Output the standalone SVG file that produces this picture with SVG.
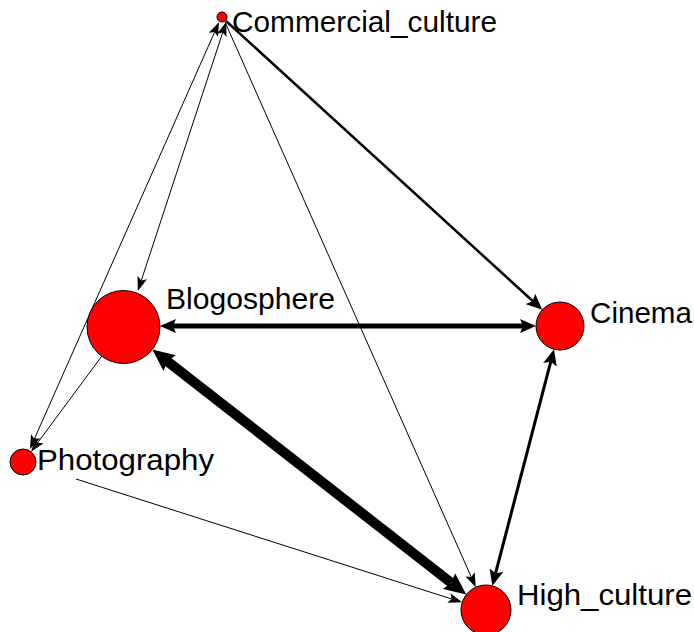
<svg xmlns="http://www.w3.org/2000/svg" width="694" height="632" viewBox="0 0 694 632">
<style>
.n{fill:#ff0000;stroke:#000;stroke-width:1}
.t{font-family:"Liberation Sans",Arial,sans-serif;font-size:29px;fill:#000}
.e{stroke:#000;fill:none}
</style>
<defs>
<marker id="as" markerUnits="userSpaceOnUse" viewBox="0 0 14 10" markerWidth="14" markerHeight="10" refX="3" refY="5" orient="auto-start-reverse"><path d="M0,0 L14,5 L0,10 L3,5 Z" fill="#000"/></marker>
<marker id="am" markerUnits="userSpaceOnUse" viewBox="0 0 16 14" markerWidth="16" markerHeight="14" refX="3" refY="7" orient="auto-start-reverse"><path d="M0,0 L16,7 L0,14 L3,7 Z" fill="#000"/></marker>
<marker id="al" markerUnits="userSpaceOnUse" viewBox="0 0 22 20" markerWidth="22" markerHeight="20" refX="3" refY="10" orient="auto-start-reverse"><path d="M0,0 L22,10 L0,20 L3,10 Z" fill="#000"/></marker>
</defs>
<g id="connectors">
<line class="e" x1="222.7" y1="32.5" x2="141.3" y2="280.5" stroke-width="1" marker-start="url(#as)" marker-end="url(#as)"/>
<line class="e" x1="214.6" y1="32.1" x2="34.4" y2="438.9" stroke-width="1" marker-start="url(#as)" marker-end="url(#as)"/>
<line class="e" x1="101.7" y1="356.3" x2="37.6" y2="442.8" stroke-width="1" marker-end="url(#as)"/>
<line class="e" x1="226" y1="21" x2="532.7" y2="301" stroke-width="2.5" marker-end="url(#am)"/>
<line class="e" x1="225" y1="22" x2="471.3" y2="577.1" stroke-width="1" marker-end="url(#as)"/>
<line class="e" x1="173" y1="326" x2="523" y2="326" stroke-width="5" marker-start="url(#am)" marker-end="url(#am)"/>
<line class="e" x1="167.3" y1="361.2" x2="451.3" y2="582.9" stroke-width="10" marker-start="url(#al)" marker-end="url(#al)"/>
<line class="e" x1="550.7" y1="361.8" x2="495.6" y2="573.2" stroke-width="3" marker-start="url(#am)" marker-end="url(#am)"/>
<line class="e" x1="76" y1="479" x2="451.7" y2="599" stroke-width="1" marker-end="url(#as)"/>
</g>
<g id="Commercial_culture"><circle class="n" cx="222" cy="17" r="5"/><text class="t" x="232" y="32" textLength="265" lengthAdjust="spacingAndGlyphs">Commercial_culture</text></g>
<g id="Blogosphere"><circle class="n" cx="123.5" cy="327" r="36.5"/><text class="t" x="166" y="309" textLength="169" lengthAdjust="spacingAndGlyphs">Blogosphere</text></g>
<g id="Cinema"><circle class="n" cx="560" cy="326" r="24"/><text class="t" x="590" y="323" textLength="102" lengthAdjust="spacingAndGlyphs">Cinema</text></g>
<g id="Photography"><circle class="n" cx="23" cy="462" r="13"/><text class="t" x="37" y="470" textLength="177" lengthAdjust="spacingAndGlyphs">Photography</text></g>
<g id="High_culture"><circle class="n" cx="486" cy="610" r="25"/><text class="t" x="517" y="605" textLength="175" lengthAdjust="spacingAndGlyphs">High_culture</text></g>
</svg>
